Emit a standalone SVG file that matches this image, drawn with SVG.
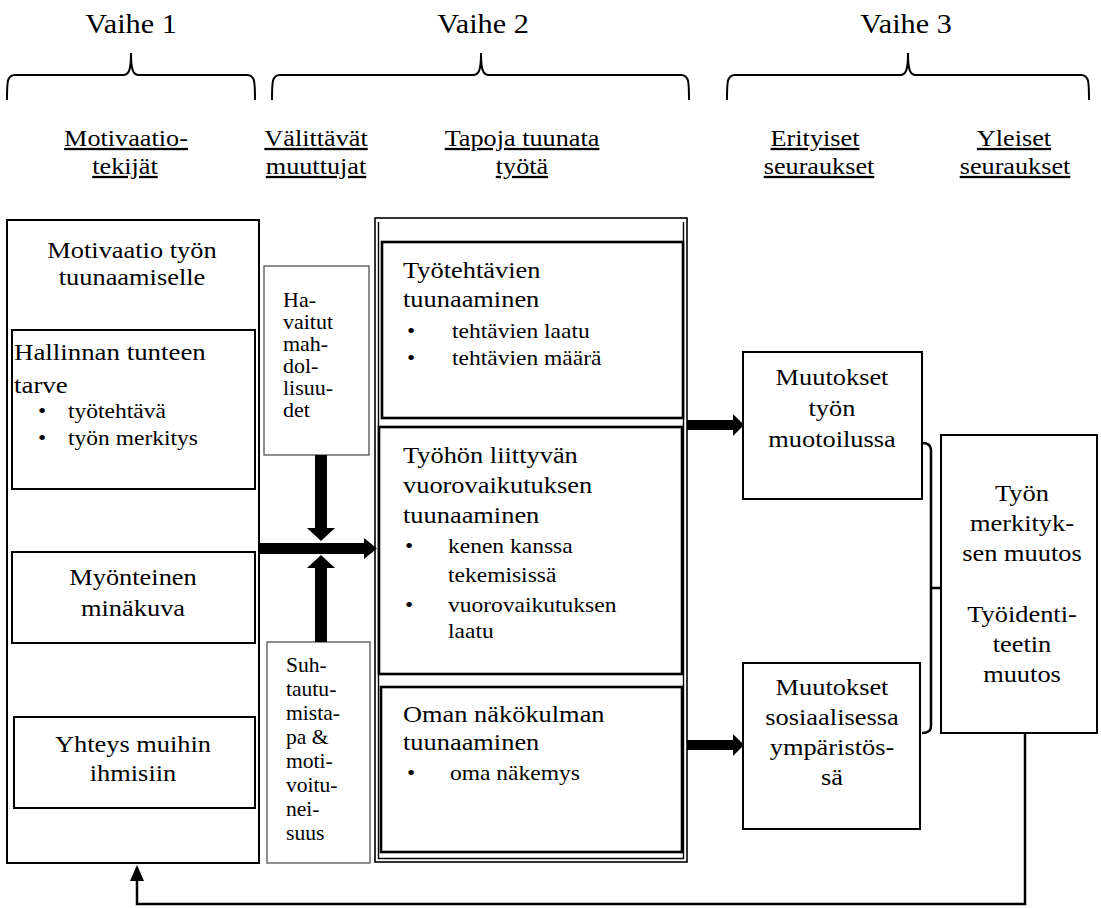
<svg xmlns="http://www.w3.org/2000/svg" width="1101" height="908" viewBox="0 0 1101 908">
<style>
.vh{font-size:27px;text-anchor:middle}
.ch{font-size:23px;text-anchor:middle;text-decoration:underline}
.m{font-size:24px;text-anchor:middle}
.l{font-size:24px}
.b{font-size:21px}
.s{font-size:20px}
.box{fill:#fff;stroke:#000;stroke-width:2}
.thin{fill:#fff;stroke:#444;stroke-width:1.2}
.ln{fill:none;stroke:#000;stroke-width:2}
.brace{fill:none;stroke:#000;stroke-width:2}
</style>
<rect width="1101" height="908" fill="#fff"/>
<g id="headers">
<text font-family="Liberation Serif" class="vh" transform="translate(131,33) scale(1.12,1)">Vaihe 1</text>
<text font-family="Liberation Serif" class="vh" transform="translate(483,33) scale(1.12,1)">Vaihe 2</text>
<text font-family="Liberation Serif" class="vh" transform="translate(906,33) scale(1.12,1)">Vaihe 3</text>
<path class="brace" d="M7 100 C7 82 7 75 15 75 L123 75 C129 75 131 70 131 53 C131 70 133 75 139 75 L247 75 C255 75 255 82 255 100"/>
<path class="brace" d="M272 100 C272 82 272 75 280 75 L473 75 C479 75 481 70 481 53 C481 70 483 75 489 75 L681 75 C689 75 689 82 689 100"/>
<path class="brace" d="M727 100 C727 82 727 75 735 75 L900 75 C906 75 908 70 908 53 C908 70 910 75 916 75 L1081 75 C1089 75 1089 82 1089 100"/>
<text font-family="Liberation Serif" class="ch" transform="translate(126,146) scale(1.14,1)">Motivaatio-</text>
<text font-family="Liberation Serif" class="ch" transform="translate(125,174) scale(1.14,1)">tekijät</text>
<text font-family="Liberation Serif" class="ch" transform="translate(316,146) scale(1.14,1)">Välittävät</text>
<text font-family="Liberation Serif" class="ch" transform="translate(316,174) scale(1.14,1)">muuttujat</text>
<text font-family="Liberation Serif" class="ch" transform="translate(522,146) scale(1.14,1)">Tapoja tuunata</text>
<text font-family="Liberation Serif" class="ch" transform="translate(522,174) scale(1.14,1)">työtä</text>
<text font-family="Liberation Serif" class="ch" transform="translate(815,146) scale(1.14,1)">Erityiset</text>
<text font-family="Liberation Serif" class="ch" transform="translate(819,174) scale(1.14,1)">seuraukset</text>
<text font-family="Liberation Serif" class="ch" transform="translate(1014,146) scale(1.14,1)">Yleiset</text>
<text font-family="Liberation Serif" class="ch" transform="translate(1015,174) scale(1.14,1)">seuraukset</text>
</g>
<g id="motivaatio">
<rect class="box" x="7" y="220" width="252" height="643"/>
<text font-family="Liberation Serif" class="m" transform="translate(132,258) scale(1.1,1)"><tspan x="0" y="0">Motivaatio työn</tspan><tspan x="0" y="27">tuunaamiselle</tspan></text>
</g>
<g id="hallinta">
<rect class="box" x="12" y="330" width="243" height="159"/>
<text font-family="Liberation Serif" class="l" transform="translate(14,360) scale(1.12,1)" font-size="25"><tspan x="0" y="0">Hallinnan tunteen</tspan><tspan x="0" y="33">tarve</tspan></text>
<text font-family="Liberation Serif" class="b" transform="translate(38,418) scale(1.12,1)"><tspan x="0" y="0">•</tspan><tspan x="0" y="27">•</tspan></text>
<text font-family="Liberation Serif" class="b" transform="translate(68,418) scale(1.12,1)"><tspan x="0" y="0">työtehtävä</tspan><tspan x="0" y="27">työn merkitys</tspan></text>
</g>
<g id="minakuva">
<rect class="box" x="12" y="552" width="243" height="91"/>
<text font-family="Liberation Serif" class="m" transform="translate(133,585) scale(1.1,1)"><tspan x="0" y="0">Myönteinen</tspan><tspan x="0" y="31">minäkuva</tspan></text>
</g>
<g id="yhteys">
<rect class="box" x="14" y="717" width="241" height="91"/>
<text font-family="Liberation Serif" class="m" transform="translate(133,752) scale(1.1,1)"><tspan x="0" y="0">Yhteys muihin</tspan><tspan x="0" y="29">ihmisiin</tspan></text>
</g>
<g id="havaitut">
<rect class="thin" x="264" y="266" width="105" height="189"/>
<text font-family="Liberation Serif" class="s" transform="translate(283,307) scale(1.1,1)" font-size="21"><tspan x="0" y="0">Ha-</tspan><tspan x="0" y="22">vaitut</tspan><tspan x="0" y="44">mah-</tspan><tspan x="0" y="66">dol-</tspan><tspan x="0" y="88">lisuu-</tspan><tspan x="0" y="110">det</tspan></text>
</g>
<g id="suhtautuminen">
<rect class="thin" x="267" y="642" width="103" height="221"/>
<text font-family="Liberation Serif" class="s" transform="translate(286,672) scale(1.08,1)"><tspan x="0" y="0">Suh-</tspan><tspan x="0" y="24">tautu-</tspan><tspan x="0" y="48">mista-</tspan><tspan x="0" y="72">pa &amp;</tspan><tspan x="0" y="96">moti-</tspan><tspan x="0" y="120">voitu-</tspan><tspan x="0" y="144">nei-</tspan><tspan x="0" y="168">suus</tspan></text>
</g>
<g id="tapoja">
<rect class="box" x="375" y="218" width="312" height="644" style="stroke-width:1.6"/>
<path class="ln" d="M378.5 222 V858.5 H683.5 V222" style="stroke-width:1.4"/>
</g>
<g id="tyotehtavat">
<rect class="box" x="382" y="242" width="301" height="176" style="stroke-width:2.6"/>
<text font-family="Liberation Serif" class="l" transform="translate(403,278) scale(1.1,1)"><tspan x="0" y="0">Työtehtävien</tspan><tspan x="0" y="29">tuunaaminen</tspan></text>
<text font-family="Liberation Serif" class="b" transform="translate(407,338) scale(1.12,1)"><tspan x="0" y="0">•</tspan><tspan x="0" y="27">•</tspan></text>
<text font-family="Liberation Serif" class="b" transform="translate(452,338) scale(1.12,1)"><tspan x="0" y="0">tehtävien laatu</tspan><tspan x="0" y="27">tehtävien määrä</tspan></text>
</g>
<g id="vuorovaikutus">
<rect class="box" x="379" y="427" width="303" height="247" style="stroke-width:2.6"/>
<text font-family="Liberation Serif" class="l" transform="translate(403,463) scale(1.1,1)"><tspan x="0" y="0">Työhön liittyvän</tspan><tspan x="0" y="30">vuorovaikutuksen</tspan><tspan x="0" y="60">tuunaaminen</tspan></text>
<text font-family="Liberation Serif" class="b" transform="translate(405,553) scale(1.12,1)"><tspan x="0" y="0">•</tspan><tspan x="0" y="59">•</tspan></text>
<text font-family="Liberation Serif" class="b" transform="translate(448,553) scale(1.12,1)"><tspan x="0" y="0">kenen kanssa</tspan><tspan x="0" y="29">tekemisissä</tspan><tspan x="0" y="59">vuorovaikutuksen</tspan><tspan x="0" y="85">laatu</tspan></text>
</g>
<g id="nakokulma">
<rect class="box" x="381" y="687" width="301" height="165" style="stroke-width:2.6"/>
<text font-family="Liberation Serif" class="l" transform="translate(403,722) scale(1.1,1)"><tspan x="0" y="0">Oman näkökulman</tspan><tspan x="0" y="28">tuunaaminen</tspan></text>
<text font-family="Liberation Serif" class="b" transform="translate(407,780) scale(1.12,1)">•</text>
<text font-family="Liberation Serif" class="b" transform="translate(450,780) scale(1.12,1)">oma näkemys</text>
</g>
<g id="muotoilu">
<rect class="box" x="743" y="352" width="179" height="147"/>
<text font-family="Liberation Serif" class="m" transform="translate(832,385) scale(1.1,1)"><tspan x="0" y="0">Muutokset</tspan><tspan x="0" y="31">työn</tspan><tspan x="0" y="62">muotoilussa</tspan></text>
</g>
<g id="sosiaalinen">
<rect class="box" x="743" y="663" width="177" height="166"/>
<text font-family="Liberation Serif" class="m" transform="translate(832,695) scale(1.1,1)"><tspan x="0" y="0">Muutokset</tspan><tspan x="0" y="30">sosiaalisessa</tspan><tspan x="0" y="60">ympäristös-</tspan><tspan x="0" y="90">sä</tspan></text>
</g>
<g id="yleiset">
<rect class="box" x="941" y="435" width="156" height="298"/>
<text font-family="Liberation Serif" class="m" transform="translate(1022,501) scale(1.1,1)"><tspan x="0" y="0">Työn</tspan><tspan x="0" y="30">merkityk-</tspan><tspan x="0" y="60">sen muutos</tspan><tspan x="0" y="121">Työidenti-</tspan><tspan x="0" y="151">teetin</tspan><tspan x="0" y="181">muutos</tspan></text>
</g>
<g id="connectors">
<rect x="315" y="455" width="12" height="74"/>
<polygon points="307,528 335,528 321,541"/>
<polygon points="321,555 307,568 335,568"/>
<rect x="315" y="567" width="12" height="75"/>
<rect x="259" y="543" width="106" height="11"/>
<polygon points="364,538 377,548.5 364,559"/>
<rect x="687" y="420" width="47" height="10"/>
<polygon points="733,414 744,425 733,436"/>
<rect x="687" y="740" width="47" height="10"/>
<polygon points="733,734 744,745 733,756"/>
<path class="ln" d="M922 443 Q931 443 931 450 V726 Q931 733 922 733 M931 588 H941" style="stroke-width:2.5"/>
<path class="ln" d="M1025 733 V904 H137 V879" style="stroke-width:2.5"/>
<polygon points="137,865 130,881 144,881"/>
</g>
</svg>
